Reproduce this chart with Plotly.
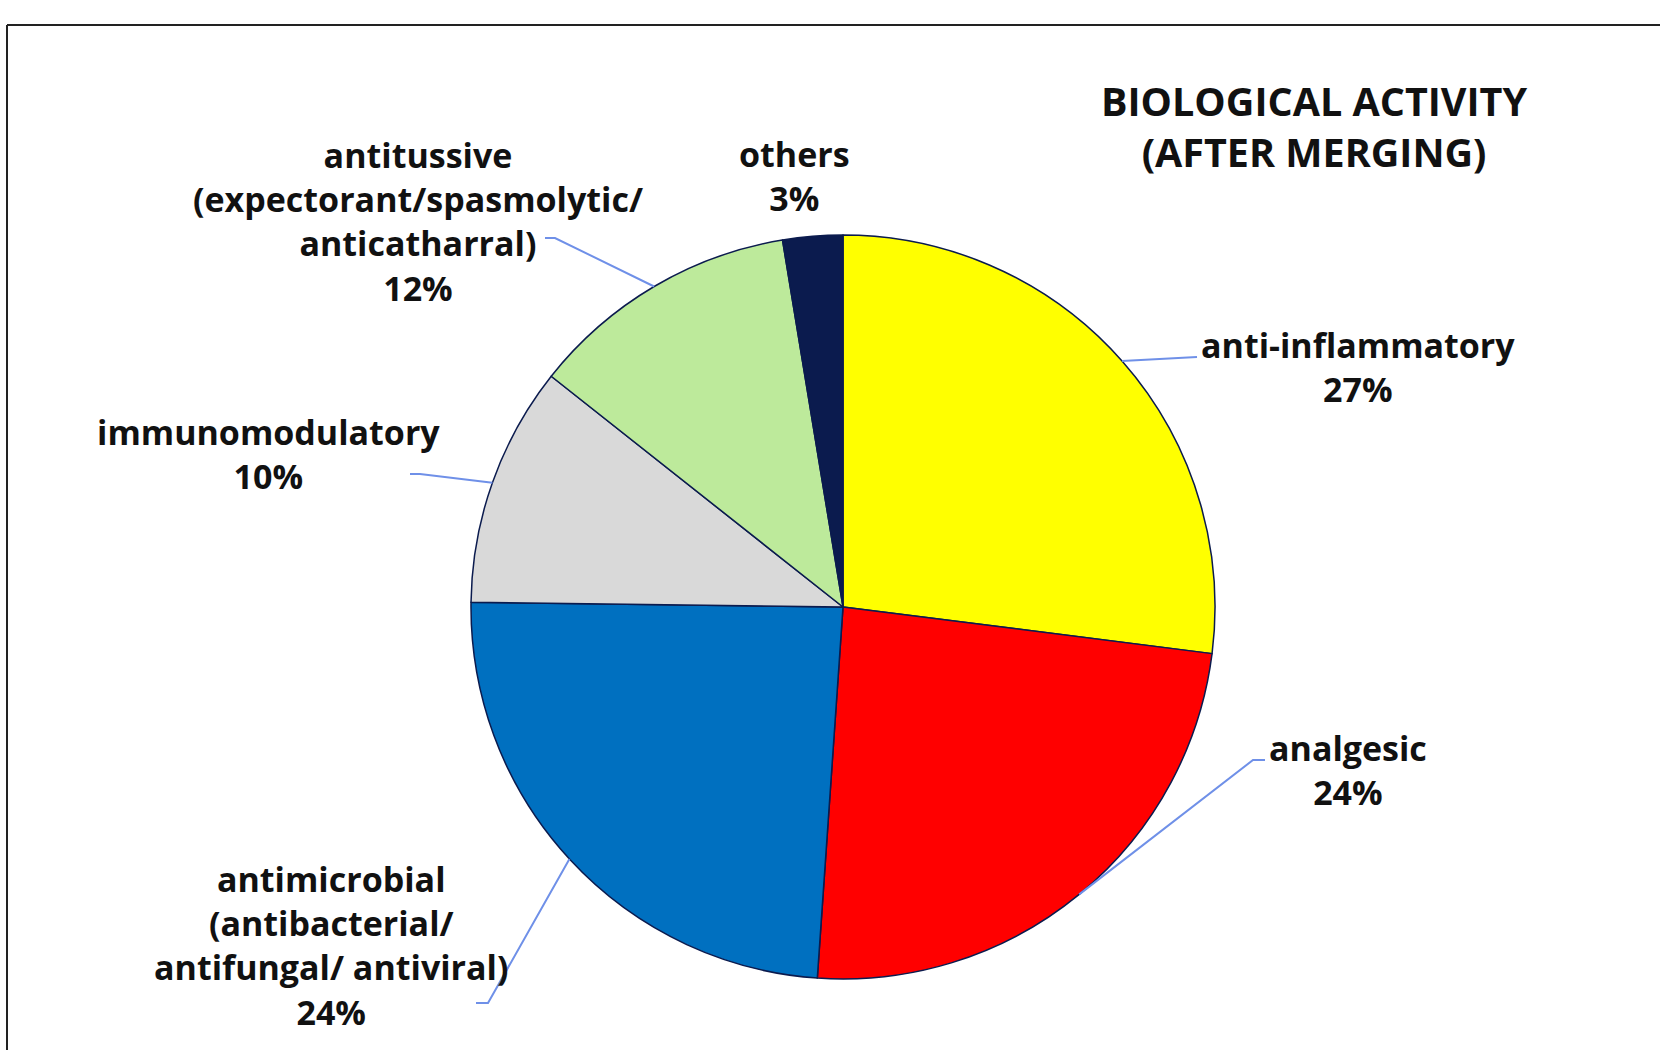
import math
import plotly.graph_objects as go

# ---- data ----
categories = ["anti-inflammatory", "analgesic", "antimicrobial", "immunomodulatory", "antitussive", "others"]
sublabels = ["", "", "(antibacterial/<br>antifungal/ antiviral)", "", "(expectorant/spasmolytic/<br>anticatharral)", ""]
values = [27.0, 24.1, 24.1, 10.45, 11.75, 2.6]
colors = ["#FFFF00", "#FF0000", "#0070C0", "#D9D9D9", "#BDEA9B", "#0B1B4E"]
title_text = "BIOLOGICAL ACTIVITY<br>(AFTER MERGING)"

# ---- layout geometry (pixels) ----
W, H = 1660, 1050
cx, cy, R = 843, 607, 372
FONT = "Open Sans"
LABEL_SIZE = 34
LEADER = "#6F90E8"

# label block centres and leader-line elbows (label side)
label_pos = [(1358, 367), (1348, 770), (331, 945), (268, 454), (418, 221), (794, 176)]
leader_start = [[(1197, 357)], [(1265, 760), (1253, 760)], [(476, 1003), (488, 1003)],
                [(410, 474), (420, 474)], [(545, 238), (555, 238)], None]


def px(x):
    return x / W


def py(y):
    return 1 - y / H


fig = go.Figure()
fig.add_trace(go.Pie(
    labels=categories,
    values=values,
    sort=False,
    direction="clockwise",
    rotation=0,
    textinfo="none",
    hoverinfo="label+percent",
    marker=dict(colors=colors, line=dict(color="#0B1B4E", width=1.5)),
    domain=dict(x=[px(cx - R), px(cx + R)], y=[py(cy + R), py(cy - R)]),
    showlegend=False,
))

total = sum(values)
annotations = []
shapes = []
cum = 0.0
for i, (name, sub, v) in enumerate(zip(categories, sublabels, values)):
    pct = round(100 * v / total)
    mid = (cum + v / 2) / total * 2 * math.pi
    cum += v
    text = name + ("<br>" + sub if sub else "") + f"<br>{pct}%"
    lx, ly = label_pos[i]
    annotations.append(dict(
        x=px(lx), y=py(ly), xref="paper", yref="paper",
        xanchor="center", yanchor="middle", showarrow=False, align="center",
        text=text, font=dict(family=FONT, size=LABEL_SIZE, color="#111111", weight="bold"),
    ))
    if leader_start[i]:
        ex = cx + R * math.sin(mid)
        ey = cy - R * math.cos(mid)
        pts = leader_start[i] + [(ex, ey)]
        path = "M " + " L ".join(f"{px(a):.5f},{py(b):.5f}" for a, b in pts)
        shapes.append(dict(type="path", path=path, xref="paper", yref="paper",
                           line=dict(color=LEADER, width=2)))

annotations.append(dict(
    x=px(1314), y=py(126), xref="paper", yref="paper",
    xanchor="center", yanchor="middle", showarrow=False, align="center",
    text=title_text, font=dict(family=FONT, size=39.5, color="#111111", weight="bold"),
))

# frame
shapes.append(dict(type="line", xref="paper", yref="paper", x0=px(7), x1=1.0, y0=py(25), y1=py(25),
                   line=dict(color="#222222", width=2)))
shapes.append(dict(type="line", xref="paper", yref="paper", x0=px(7), x1=px(7), y0=py(25), y1=0.0,
                   line=dict(color="#222222", width=2)))

fig.update_layout(
    width=W, height=H,
    margin=dict(l=0, r=0, t=0, b=0),
    paper_bgcolor="white", plot_bgcolor="white",
    annotations=annotations, shapes=shapes,
)

fig.write_html("out.html", config={"displayModeBar": False},
               post_script="document.body.style.margin='0';document.body.style.overflow='hidden';")
